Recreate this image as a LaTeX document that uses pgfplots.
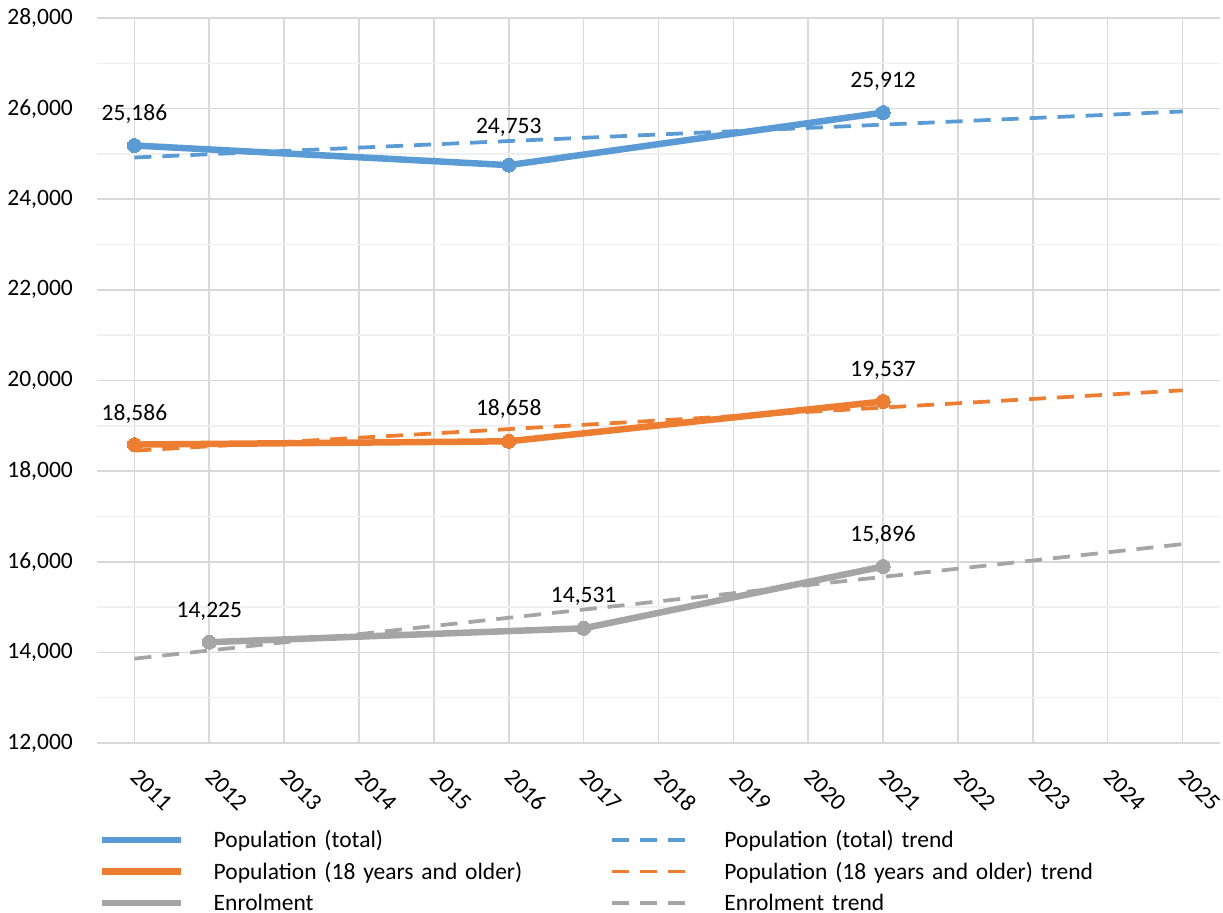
\documentclass[border=0pt]{standalone}
\usepackage{pgfplots}
\pgfplotsset{compat=1.18}
\usepackage{pgfplotstable}
\usepackage{fontspec}
\setmainfont{Carlito}
\definecolor{cblue}{HTML}{5B9BD5}
\definecolor{corange}{HTML}{ED7D31}
\definecolor{cgray}{HTML}{A5A5A5}
\definecolor{gridmaj}{HTML}{D9D9D9}
\definecolor{gridmin}{HTML}{F0F0F0}

\pgfplotsset{
  solidleg/.style={legend image code/.code={\draw[##1, line width=6.5pt] (0pt,0pt) -- (79pt,0pt);}},
  dashleg/.style={legend image code/.code={\draw[##1] (0pt,0pt) -- (73pt,0pt);}},
  mainline/.style={#1, line width=6.5pt, line join=round, mark=*, mark size=7pt,
    mark options={solid, fill=#1, draw=#1, line width=0pt},
    nodes near coords, visualization depends on={\thisrow{dy}\as\dy},
    every node near coord/.append style={yshift=\dy pt}, solidleg},
  trendline/.style={#1, line width=3.75pt, dash pattern=on 17pt off 11pt, dashleg},
}

\pgfplotstableread{
x y dy
2011 25186 25
2016 24753 32
2021 25912 25
}\poptotal
\pgfplotstableread{
x y
2011 24921
2025 25937
}\poptotaltrend
\pgfplotstableread{
x y dy
2011 18586 24
2016 18658 26
2021 19537 24.5
}\popadult
\pgfplotstableread{
x y
2011 18452
2025 19783
}\popadulttrend
\pgfplotstableread{
x y dy
2012 14225 25
2017 14531 26
2021 15896 25
}\enrol
\pgfplotstableread{
x y
2011 13861
2025 16389
}\enroltrend

\begin{document}
\fontsize{23.5}{28}\selectfont
\begin{tikzpicture}[font=\fontsize{23.5}{28}\selectfont]
\begin{axis}[
  name=ax,
  scale only axis,
  width=1123pt, height=725pt,
  xmin=2010.5, xmax=2025.5,
  ymin=12000, ymax=28000,
  xtick={2011,2012,...,2025},
  xticklabels={2011,2012,2013,2014,2015,2016,2017,2018,2019,2020,2021,2022,2023,2024,2025},
  ytick={12000,14000,...,28000},
  scaled y ticks=false,
  minor y tick num=1,
  xmajorgrids, ymajorgrids, yminorgrids,
  major grid style={draw=gridmaj, line width=1.6pt},
  minor grid style={draw=gridmin, line width=1.6pt},
  major tick length=0pt, minor tick length=0pt,
  axis line style={draw=none},
  /pgf/number format/assume math mode=true,
  yticklabel style={/pgf/number format/fixed, /pgf/number format/1000 sep={,}, anchor=east, inner sep=0pt, xshift=-24pt},
  xticklabel style={rotate=-45, anchor=west, inner sep=0pt},
  xticklabel shift=30pt,
  legend columns=2,
  legend cell align=left,
  legend style={
    at={(0,0)}, anchor=north west, xshift=2pt, yshift=-81pt,
    draw=none, fill=none, inner sep=0pt, column sep=0pt, row sep=0pt,
    nodes={inner xsep=0pt, inner ysep=7.75pt, text height=16pt, text depth=0pt, text width=396pt, align=left},
    /tikz/column 1/.style={column sep=29pt},
    /tikz/column 3/.style={column sep=38pt},
  },
  nodes near coords style={text=black, anchor=base, inner sep=0pt,
    /pgf/number format/fixed, /pgf/number format/1000 sep={,}, /pgf/number format/assume math mode=true},
]
\addplot[mainline=cblue] table[x=x, y=y] {\poptotal};
\addlegendentry{Population (total)}
\addplot[trendline=cblue] table[x=x, y=y] {\poptotaltrend};
\addlegendentry{Population (total) trend}
\addplot[mainline=corange] table[x=x, y=y] {\popadult};
\addlegendentry{Population (18 years and older)}
\addplot[trendline=corange] table[x=x, y=y] {\popadulttrend};
\addlegendentry{Population (18 years and older) trend}
\addplot[mainline=cgray] table[x=x, y=y] {\enrol};
\addlegendentry{Enrolment}
\addplot[trendline=cgray] table[x=x, y=y] {\enroltrend};
\addlegendentry{Enrolment trend}
\end{axis}
\pgfresetboundingbox
\path[use as bounding box] ([shift={(-97pt,-169pt)}]ax.south west) rectangle ([shift={(3pt,18pt)}]ax.north east);
\end{tikzpicture}
\end{document}
